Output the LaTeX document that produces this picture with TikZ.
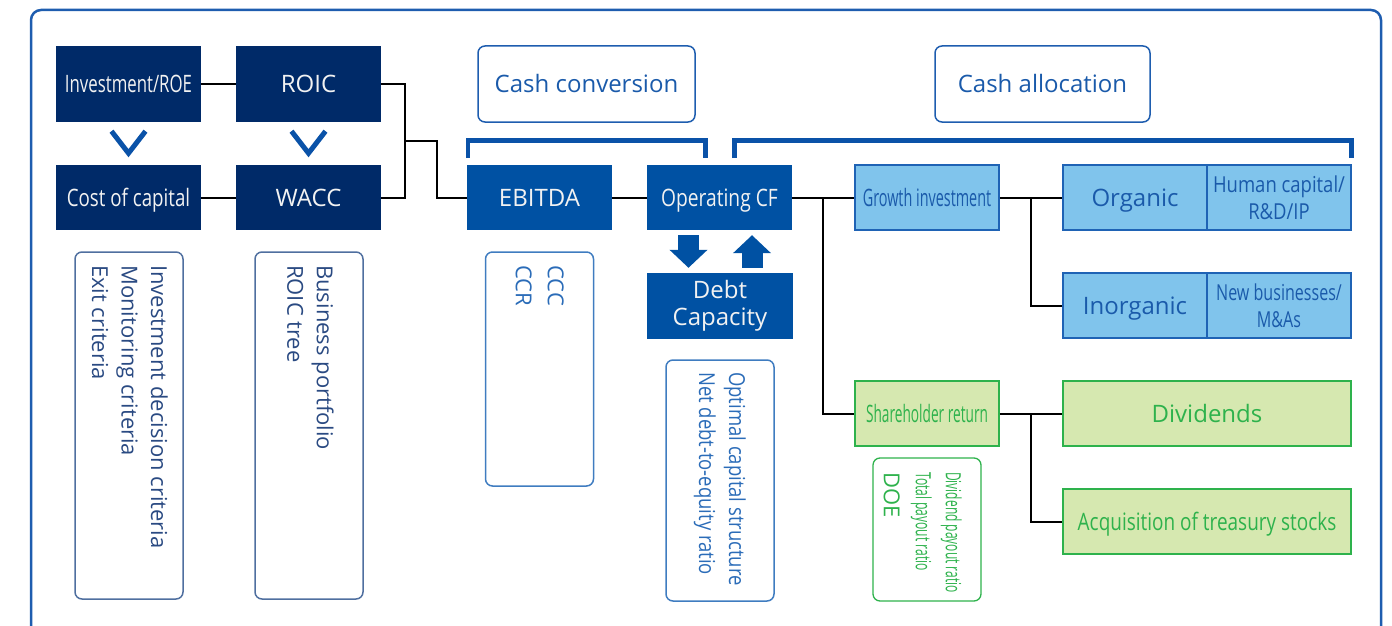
\documentclass[tikz,border=0pt]{standalone}
\usepackage{fontspec}
\setmainfont{Open Sans}
\usepackage{graphicx}
\usetikzlibrary{arrows.meta,calc}

\definecolor{navy}{HTML}{002A68}
\definecolor{midblue}{HTML}{0051A3}
\definecolor{skyfill}{HTML}{80C4EC}
\definecolor{skyline}{HTML}{1F63B5}
\definecolor{skytext}{HTML}{1A5AAA}
\definecolor{leaf}{HTML}{D6E8B0}
\definecolor{leafline}{HTML}{2EB24C}
\definecolor{framecol}{HTML}{1E5DAF}
\definecolor{brackcol}{HTML}{0A52A8}
\definecolor{greyblue}{HTML}{4F6F9F}
\definecolor{greytext}{HTML}{2A4A82}
\definecolor{calloutline}{HTML}{3F7CC0}
\definecolor{callouttext}{HTML}{2B6CB8}
\definecolor{boxwhite}{HTML}{F2F2F2}

% horizontally condensed text
\newcommand\cnd[2]{\scalebox{#1}[1]{#2}}
\newcommand\fsz[2]{\fontsize{#1}{#2}\selectfont}

\tikzset{
  base/.style={inner sep=0pt, minimum width=145pt, minimum height=65pt, align=center},
  oneline/.style={text height=17pt, text depth=0pt},
  navybox/.style={base, fill=navy, text=boxwhite, font=\fsz{24}{28}},
  midbox/.style={base, fill=midblue, text=boxwhite, font=\fsz{24}{27}},
  skybox/.style={base, fill=skyfill, draw=skyline, line width=1.5pt, text=skytext, font=\fsz{24}{28}},
  leafbox/.style={base, fill=leaf, draw=leafline, line width=1.5pt, text=leafline, font=\fsz{24}{28}},
  headbox/.style={base, oneline, draw=framecol, line width=1.5pt, rounded corners=7pt, text=skytext, font=\fsz{24}{28}, minimum height=76pt},
  noteL/.style={draw=greyblue, line width=1.5pt, rounded corners=7pt, inner sep=0pt, minimum width=108pt},
  noteB/.style={draw=calloutline, line width=1.5pt, rounded corners=7pt, inner sep=0pt, minimum width=108pt},
  noteG/.style={draw=leafline, line width=1.3pt, rounded corners=7pt, inner sep=0pt, minimum width=108pt},
  vtext/.style={rotate=-90, anchor=north west, inner sep=0pt, align=left},
  conn/.style={draw=black, line width=2pt},
  bracket/.style={draw=brackcol, line width=4.5pt},
  chevron/.style={draw=brackcol, line width=5pt},
  blockarrow/.style={draw=midblue, line width=21pt, -{Triangle[width=37pt,length=18pt]}},
}

\begin{document}
\begin{tikzpicture}[x=1pt,y=-1pt]
\useasboundingbox (0,0) rectangle (1392,626);
\clip (0,0) rectangle (1392,626);

% outer frame
\draw[framecol, line width=2.5pt, rounded corners=10pt] (31,10) rectangle (1381,700);

% capital cost side
\node[navybox, oneline, minimum height=76pt] (inv)  at (128.5,84) {\cnd{0.70}{Investment/ROE}};
\node[navybox, oneline, minimum height=76pt] (roic) at (308.5,84) {ROIC};
\node[navybox, oneline] (coc)  at (128.5,197.5) {\cnd{0.78}{Cost of capital}};
\node[navybox, oneline] (wacc) at (308.5,197.5) {WACC};

\draw[chevron] ($(inv.south)+(-17,9)$) -- ($(inv.south)+(0,31)$) -- ($(inv.south)+(17,9)$);
\draw[chevron] ($(roic.south)+(-17,9)$) -- ($(roic.south)+(0,31)$) -- ($(roic.south)+(17,9)$);

% headings and their brackets
\node[headbox, minimum width=217pt] (hconv)  at (586.5,84)  {Cash conversion};
\node[headbox, minimum width=215pt] (halloc) at (1042.5,84) {Cash allocation};

\draw[bracket] (468,158) -- (468,140.5) -- (705.5,140.5) -- (705.5,158);
\draw[bracket] (734.5,158) -- (734.5,140.5) -- (1351.5,140.5) -- (1351.5,158);

% cash conversion
\node[midbox, oneline] (ebitda) at (539.5,197.5) {EBITDA};
\node[midbox, oneline] (ocf)    at (719.5,197.5) {\cnd{0.80}{Operating CF}};
\node[midbox, minimum width=146pt, minimum height=66pt] (debt) at (720,306) {Debt\\Capacity};

\draw[blockarrow] ($(ocf.south)+(-31,5)$) -- ($(debt.north)+(-31.5,-5)$);
\draw[blockarrow] ($(debt.north)+(32,-5)$) -- ($(ocf.south)+(32.5,5)$);

% cash allocation
\node[skybox, oneline, minimum width=144pt] (growth) at (927,197.5) {\cnd{0.60}{Growth investment}};
\node[skybox, oneline, minimum width=144pt] (organic) at (1135,197.5) {Organic};
\node[skybox, minimum width=144pt, font=\fsz{22}{27}] (human) at (1279,197.5) {\cnd{0.84}{Human capital/}\\\cnd{0.84}{R\&D/IP}};
\node[skybox, oneline, minimum width=144pt] (inorg) at (1135,305.5) {Inorganic};
\node[skybox, minimum width=144pt, font=\fsz{22}{27}] (newbiz) at (1279,305.5) {\cnd{0.73}{New businesses/}\\\cnd{0.73}{M\&As}};

\node[leafbox, oneline, minimum width=144pt] (share) at (927,413.5) {\cnd{0.57}{Shareholder return}};
\node[leafbox, oneline, minimum width=288pt] (div) at (1207,413.5) {Dividends};
\node[leafbox, oneline, minimum width=288pt] (acq) at (1207,521.5) {\cnd{0.79}{Acquisition of treasury stocks}};

% connectors
\coordinate (j1) at (405,141);
\coordinate (j2) at (437,141);
\coordinate (j3) at (823,197.5);
\coordinate (j4) at (1031,197.5);
\coordinate (j5) at (1031,413.5);
\draw[conn] (inv) -- (roic);
\draw[conn] (coc) -- (wacc);
\draw[conn] (roic.east) -| (j1) |- (wacc.east);
\draw[conn] (j1) -- (j2) |- (ebitda.west);
\draw[conn] (ebitda) -- (ocf);
\draw[conn] (ocf) -- (growth);
\draw[conn] (j3) |- (share.west);
\draw[conn] (growth) -- (organic);
\draw[conn] (j4) |- (inorg.west);
\draw[conn] (share) -- (div);
\draw[conn] (j5) |- (acq.west);

% note boxes with vertical text
\node[noteL, minimum height=347pt] (n1) at (129,425.5) {};
\node[vtext, text=greytext, font=\fsz{22}{29.5}] (n1t) at (168,265)
  {Investment decision criteria\\Monitoring criteria\\Exit criteria};
\node[noteL, minimum height=347pt] (n2) at (309,425.5) {};
\node[vtext, text=greytext, font=\fsz{22}{29.5}] (n2t) at (334,265)
  {Business portfolio\\ROIC tree};
\node[noteB, minimum height=234pt] (n3) at (539.5,369) {};
\node[vtext, text=callouttext, font=\fsz{22}{32}] (n3t) at (564,265)
  {CCC\\CCR};
\node[noteB, minimum height=241pt] (n4) at (720,480.5) {};
\node[vtext, text=callouttext, font=\fsz{22}{30}] (n4t) at (746,372)
  {\cnd{0.84}{Optimal capital structure}\\\cnd{0.84}{Net debt-to-equity ratio}};
\node[noteG, minimum height=143pt] (n5) at (927,529.5) {};
\node[vtext, text=leafline, font=\fsz{21}{25}] (n5a) at (962,472) {\cnd{0.57}{Dividend payout ratio}};
\node[vtext, text=leafline, font=\fsz{21}{25}] (n5b) at (932,472) {\cnd{0.575}{Total payout ratio}};
\node[vtext, text=leafline, font=\fsz{22}{26}] (n5c) at (900,472) {DOE};
\end{tikzpicture}
\end{document}
